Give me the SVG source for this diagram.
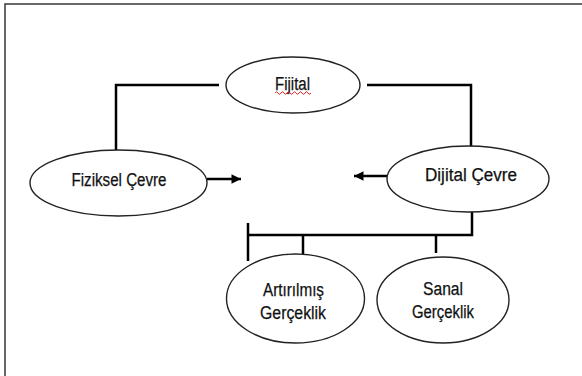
<svg xmlns="http://www.w3.org/2000/svg" width="582" height="376" viewBox="0 0 582 376">
<style>
.n{fill:#fff;stroke:#222;stroke-width:1.4}
.t{font-family:"Liberation Sans",Arial,sans-serif;font-size:18px;fill:#111;stroke:#111;stroke-width:0.25;text-anchor:middle}
.c{fill:none;stroke:#000;stroke-width:2.5}
</style>
<defs>
<marker id="ah" viewBox="0 0 10 10" refX="10" refY="5" markerWidth="4" markerHeight="3.8" orient="auto" markerUnits="strokeWidth">
<path d="M0,0 L10,5 L0,10 z" fill="#000"/>
</marker>
</defs>
<rect width="582" height="376" fill="#fff"/>
<rect x="5" y="4" width="620" height="420" fill="none" stroke="#444" stroke-width="1.6"/>
<g id="connectors">
<path class="c" d="M219,85 H116 V150"/>
<path class="c" d="M367,85 H471 V147"/>
<path class="c" d="M207,179 H241" marker-end="url(#ah)"/>
<path class="c" d="M387,176 H354" marker-end="url(#ah)"/>
<path class="c" d="M472,212 V235 H248"/>
<path class="c" d="M248,223 V261"/>
<path class="c" d="M303,235 V254"/>
<path class="c" d="M436,235 V253"/>
</g>
<g id="fijital">
<ellipse class="n" cx="293" cy="85" rx="67" ry="28"/>
<text class="t" x="292.5" y="90" textLength="35" lengthAdjust="spacingAndGlyphs">Fijital</text>
<path d="M275,93 q1.5,-2.5 3,0 t3,0 t3,0 t3,0 t3,0 t3,0 t3,0 t3,0 t3,0 t3,0 t3,0 t3,0" fill="none" stroke="#e02020" stroke-width="1"/>
</g>
<g id="fiziksel">
<ellipse class="n" cx="118.5" cy="183" rx="88.5" ry="33"/>
<text class="t" x="119" y="186" textLength="95" lengthAdjust="spacingAndGlyphs">Fiziksel Çevre</text>
</g>
<g id="dijital">
<ellipse class="n" cx="468" cy="179" rx="81" ry="33"/>
<text class="t" x="471" y="181" textLength="92" lengthAdjust="spacingAndGlyphs">Dijital Çevre</text>
</g>
<g id="artirilmis">
<ellipse class="n" cx="295.5" cy="298.5" rx="69" ry="44.5"/>
<text class="t" x="293.5" y="296" textLength="61" lengthAdjust="spacingAndGlyphs">Artırılmış</text>
<text class="t" x="293" y="318.5" textLength="66" lengthAdjust="spacingAndGlyphs">Gerçeklik</text>
</g>
<g id="sanal">
<ellipse class="n" cx="443" cy="300" rx="66" ry="43"/>
<text class="t" x="443" y="294.5" textLength="40" lengthAdjust="spacingAndGlyphs">Sanal</text>
<text class="t" x="443" y="318" textLength="62" lengthAdjust="spacingAndGlyphs">Gerçeklik</text>
</g>
</svg>
